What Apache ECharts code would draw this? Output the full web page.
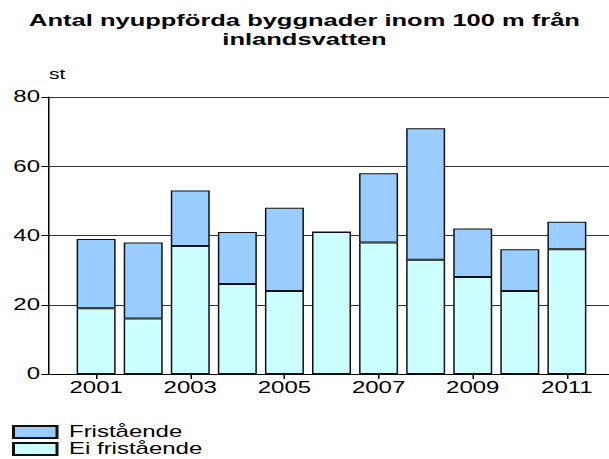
<!DOCTYPE html>
<html>
<head>
<meta charset="utf-8">
<script src="https://cdn.jsdelivr.net/npm/echarts@6/dist/echarts.min.js"></script>
<style>
  html, body { margin: 0; padding: 0; background: #fff; overflow: hidden; }
  /* the reference is drawn horizontally stretched, so draw narrow and stretch */
  #chart { width: 406px; height: 459px; transform: scaleX(1.5); transform-origin: 0 0; }
</style>
</head>
<body>
<div id="chart"></div>
<script>
var years = ['2001', '2002', '2003', '2004', '2005', '2006', '2007', '2008', '2009', '2010', '2011'];
var eiFristaende = [19, 16, 37, 26, 24, 41, 38, 33, 28, 24, 36];
var fristaende = [20, 22, 16, 15, 24, 0, 20, 38, 14, 12, 8];

// one empty slot on each side so the bars sit between the axis ends
var cats = [''].concat(years, ['']);
function pad(arr) { return [null].concat(arr, [null]); }
function oddIndex(index) { return index % 2 === 1; }

var font = 'Liberation Sans, Arial, sans-serif';

var option = {
    animation: false,
    title: {
        text: 'Antal nyuppförda byggnader inom 100 m från\ninlandsvatten',
        left: 'center',
        top: 6,
        textStyle: { fontSize: 17, fontWeight: 'bold', color: '#000', lineHeight: 19, fontFamily: font }
    },
    legend: {
        orient: 'vertical',
        left: 8,
        top: 424,
        height: 60,
        padding: 0,
        itemWidth: 29,
        itemHeight: 12,
        itemGap: 1,
        icon: 'rect',
        data: ['Fristående', 'Ei fristående'],
        textStyle: { fontSize: 16, lineHeight: 16, color: '#000', fontFamily: font, padding: [0, 0, 0, 3] }
    },
    grid: {
        left: 32.7,
        right: -3.3,
        top: 97,
        bottom: 85,
        containLabel: false,
        outerBoundsMode: 'none'
    },
    xAxis: {
        type: 'category',
        data: cats,
        boundaryGap: false,
        axisLine: { lineStyle: { color: '#000', width: 1 } },
        axisTick: { interval: oddIndex, length: 5, lineStyle: { color: '#000' } },
        axisLabel: { interval: oddIndex, fontSize: 16, color: '#000', margin: 6, fontFamily: font },
        splitLine: { show: false }
    },
    yAxis: {
        type: 'value',
        min: 0,
        max: 80,
        interval: 20,
        name: 'st',
        nameLocation: 'end',
        nameGap: 16,
        nameTextStyle: { align: 'left', fontSize: 14, color: '#000', fontFamily: font },
        axisLine: { show: true, lineStyle: { color: '#000', width: 1 } },
        axisTick: { show: true, length: 5, lineStyle: { color: '#000' } },
        axisLabel: { fontSize: 16, color: '#000', margin: 6, fontFamily: font },
        splitLine: { lineStyle: { color: '#333', width: 1 } }
    },
    series: [
        {
            name: 'Ei fristående',
            type: 'bar',
            stack: 'total',
            barWidth: 26,
            itemStyle: { color: '#CCFFFF', borderColor: '#111', borderWidth: 1 },
            data: pad(eiFristaende)
        },
        {
            name: 'Fristående',
            type: 'bar',
            stack: 'total',
            barWidth: 26,
            itemStyle: { color: '#99CCFF', borderColor: '#111', borderWidth: 1 },
            data: pad(fristaende)
        }
    ]
};

var myChart = echarts.init(document.getElementById('chart'), null, { renderer: 'svg' });
myChart.setOption(option);
</script>
</body>
</html>
